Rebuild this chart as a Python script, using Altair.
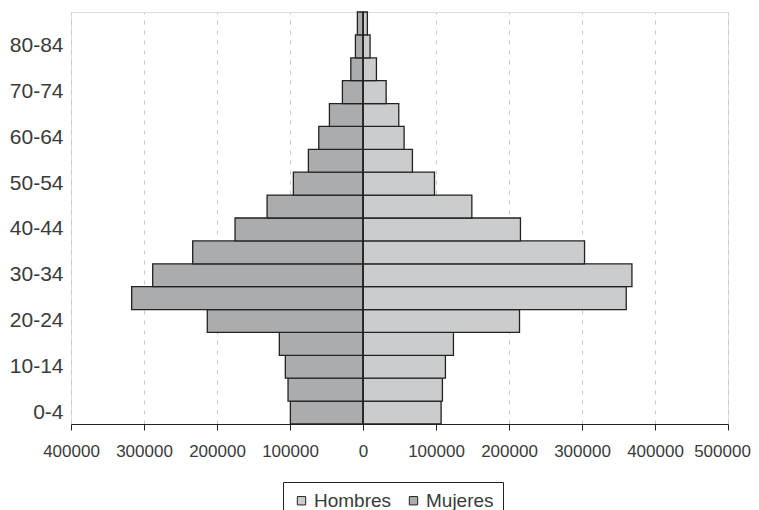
import altair as alt
import pandas as pd

ages = ["0-4", "5-9", "10-14", "15-19", "20-24", "25-29", "30-34", "35-39",
        "40-44", "45-49", "50-54", "55-59", "60-64", "65-69", "70-74",
        "75-79", "80-84", "85+"]
hombres = [107000, 108800, 112900, 123900, 214400, 360600, 368400, 303500,
           215700, 149100, 97900, 67700, 56300, 49000, 31700, 18400, 9700, 6000]
mujeres = [99500, 102700, 106400, 114600, 213300, 316900, 288100, 233300,
           175300, 131400, 95400, 74800, 60600, 46000, 28200, 16700, 10400, 7700]
age_labels = ["0-4", "10-14", "20-24", "30-34", "40-44", "50-54", "60-64", "70-74", "80-84"]
x_ticks = [-400000, -300000, -200000, -100000, 0, 100000, 200000, 300000, 400000, 500000]
series = ["Hombres", "Mujeres"]
colors = ["#cbcccd", "#abacae"]

rows = []
for a, h, m in zip(ages, hombres, mujeres):
    rows.append({"edad": a, "sexo": "Hombres", "valor": h})
    rows.append({"edad": a, "sexo": "Mujeres", "valor": -m})
df = pd.DataFrame(rows)

FONT = "Liberation Sans"
TXT = "#3a3a3a"

x_enc = alt.X(
    "valor:Q",
    scale=alt.Scale(domain=[x_ticks[0], x_ticks[-1]], nice=False, zero=False),
    axis=alt.Axis(
        values=x_ticks,
        labelExpr="format(abs(datum.value), 'd')",
        title=None,
        grid=True,
        gridDash=[4, 6],
        gridColor="#c8c8c8",
        gridWidth=1,
        tickSize=6,
        tickColor="#222222",
        domainColor="#222222",
        labelFontSize=17,
        labelFont=FONT,
        labelColor=TXT,
        labelPadding=13,
        labelOverlap=False,
        labelFlush=False,
        labelOffset={"condition": {"test": "datum.value == 500000", "value": -6}, "value": 0},
    ),
)

y_enc = alt.Y(
    "edad:N",
    sort=ages[::-1],
    scale=alt.Scale(paddingInner=0, paddingOuter=0),
    axis=alt.Axis(
        values=age_labels,
        title=None,
        domain=False,
        ticks=False,
        grid=False,
        labelFontSize=21,
        labelFont=FONT,
        labelColor=TXT,
        labelPadding=8,
    ),
)

bars = alt.Chart(df).mark_bar(stroke="#222222", strokeWidth=1.3).encode(
    x=x_enc,
    y=y_enc,
    color=alt.Color(
        "sexo:N",
        scale=alt.Scale(domain=series, range=colors),
        legend=alt.Legend(
            orient="none",
            legendX=212,
            legendY=470,
            direction="horizontal",
            title=None,
            strokeColor="#222222",
            padding=9,
            symbolType="square",
            symbolSize=70,
            symbolStrokeColor="#222222",
            symbolStrokeWidth=1,
            labelFontSize=19,
            labelFont=FONT,
            labelColor=TXT,
            labelOffset=3,
            columnPadding=12,
            labelExpr="datum.label == 'Mujeres' ? '\u00a0\u00a0Mujeres' : datum.label",
        ),
    ),
)

zero_rule = alt.Chart(pd.DataFrame({"x": [0]})).mark_rule(
    color="#222222", strokeWidth=1.5
).encode(x="x:Q")

chart = alt.layer(bars, zero_rule).properties(
    width=657,
    height=412,
    autosize=alt.AutoSizeParams(type="none"),
    padding={"left": 63, "top": 4, "right": 23, "bottom": 90},
).configure_view(stroke=None).configure(font=FONT)

chart.save("out.html", embed_options={"renderer": "svg", "actions": False})
